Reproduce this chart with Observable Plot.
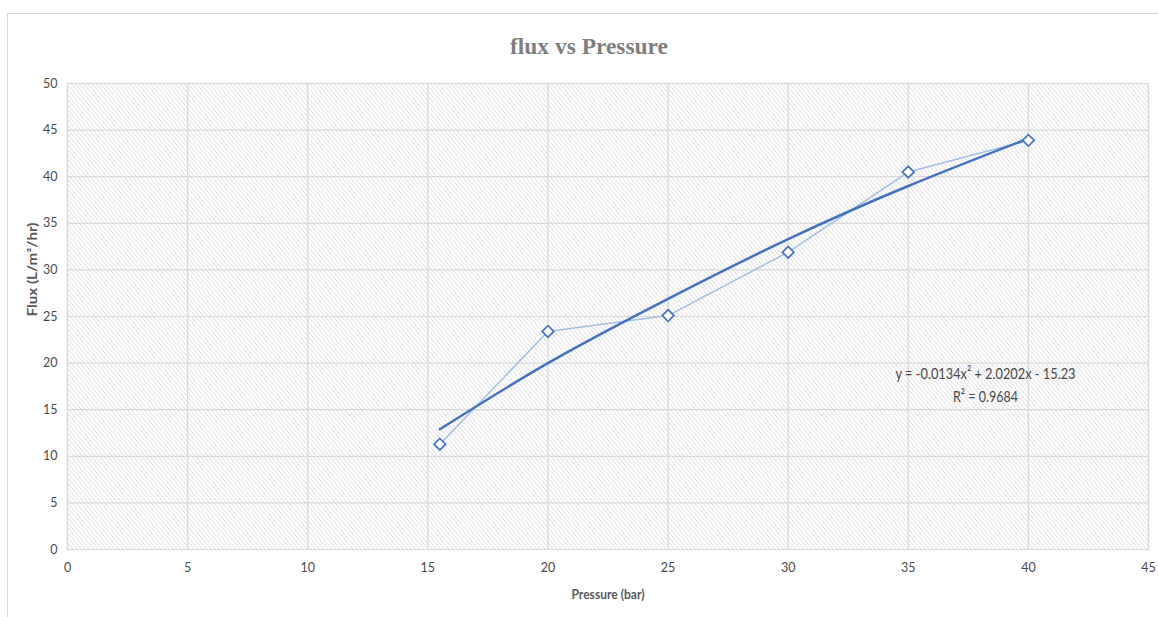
<!DOCTYPE html>
<html>
<head>
<meta charset="utf-8">
<script src="https://cdn.jsdelivr.net/npm/d3@7"></script>
<script src="https://cdn.jsdelivr.net/npm/@observablehq/plot@0.6"></script>
<style>
  html, body { margin: 0; padding: 0; background: #fff; }
  #wrap { position: relative; width: 1158px; height: 617px; overflow: hidden; }
  #border { position: absolute; left: 7px; top: 13px; width: 1300px; height: 800px; border: 1px solid #d9d9d9; box-sizing: border-box; }
  #chart { position: absolute; left: 0; top: 0; }
</style>
</head>
<body>
<div id="wrap"><div id="border"></div><div id="chart"></div></div>
<script>
// Measured data
const pressure = [15.5, 20, 25, 30, 35, 40];
const flux = [11.3, 23.4, 25.1, 31.9, 40.5, 43.9];
// Polynomial trendline values
const trendX = [15.5, 20, 25, 30, 35, 40];
const trendY = [12.9, 20.0, 26.9, 33.3, 39.0, 44.1];
const xTicks = [0, 5, 10, 15, 20, 25, 30, 35, 40, 45];
const yTicks = [0, 5, 10, 15, 20, 25, 30, 35, 40, 45, 50];
const titleText = "flux vs Pressure";
const xLabel = "Pressure (bar)";
const yLabel = "Flux (L/m²/hr)";
const equationText = ["y = -0.0134x² + 2.0202x - 15.23", "R² = 0.9684"];

const points = pressure.map((p, i) => ({p, f: flux[i]}));
const trend = trendX.map((p, i) => ({p, f: trendY[i]}));

const font = "Lato, 'Open Sans', sans-serif";
const textColor = "#595959";
const tickColor = "#4a4a4a";

const plot = Plot.plot({
  width: 1158,
  height: 617,
  marginLeft: 67,
  marginRight: 10,
  marginTop: 83,
  marginBottom: 68,
  style: { fontFamily: font, fontSize: "12px", color: textColor, background: "transparent", overflow: "visible" },
  x: { domain: [0, 45], ticks: xTicks, tickSize: 0, tickPadding: 14, label: null },
  y: { domain: [0, 50], ticks: yTicks, tickSize: 0, tickPadding: 10, label: null },
  marks: [
    Plot.frame({ fill: "url(#hatch)", stroke: "none" }),
    Plot.gridX(xTicks, { stroke: "#d9d9d9", strokeOpacity: 1, strokeWidth: 1.2 }),
    Plot.gridY(yTicks, { stroke: "#d9d9d9", strokeOpacity: 1, strokeWidth: 1.2 }),
    Plot.frame({ stroke: "#d9d9d9", strokeWidth: 1.2 }),
    Plot.axisX(xTicks, { tickSize: 0, tickPadding: 14, fill: tickColor, fontSize: 12.5 }),
    Plot.axisY(yTicks, { tickSize: 0, tickPadding: 10, fill: tickColor, fontSize: 12.5 }),
    Plot.line(points, { x: "p", y: "f", stroke: "#a3bfe6", strokeWidth: 1.5 }),
    Plot.line(trend, { x: "p", y: "f", stroke: "#4472c4", strokeWidth: 2.5, curve: "natural" }),
    Plot.dot(points, { x: "p", y: "f", symbol: "square", rotate: 45, r: 4.6, fill: "white", stroke: "#4472c4", strokeWidth: 1.7 }),
    Plot.text([titleText], { frameAnchor: "top", lineAnchor: "middle", dx: -19, dy: -37, fontSize: 23, fontWeight: "bold", fill: "#7f7f7f", fontFamily: "'Liberation Serif', 'DejaVu Serif', serif", className: "t-title" }),
    Plot.text([xLabel], { frameAnchor: "bottom", lineAnchor: "middle", dy: 45, fontSize: 12.5, fontWeight: "bold", fill: textColor, className: "t-xlabel" }),
    Plot.text([yLabel], { frameAnchor: "left", lineAnchor: "middle", dx: -35, rotate: -90, fontSize: 12.5, fontWeight: "bold", fill: textColor, className: "t-ylabel" }),
    Plot.text([equationText[0]], { frameAnchor: "top-right", lineAnchor: "middle", dx: -163, dy: 290, textAnchor: "middle", fontSize: 16, fill: tickColor, className: "t-eq1" }),
    Plot.text([equationText[1]], { frameAnchor: "top-right", lineAnchor: "middle", dx: -163, dy: 313, textAnchor: "middle", fontSize: 16, fill: tickColor, className: "t-eq2" })
  ]
});

// hatch pattern definition
const ns = "http://www.w3.org/2000/svg";
const defs = document.createElementNS(ns, "defs");
const pat = document.createElementNS(ns, "pattern");
pat.setAttribute("id", "hatch");
pat.setAttribute("patternUnits", "userSpaceOnUse");
pat.setAttribute("width", "3.2");
pat.setAttribute("height", "3.2");
pat.setAttribute("patternTransform", "rotate(-40)");
const bg = document.createElementNS(ns, "rect");
bg.setAttribute("width", "3.2"); bg.setAttribute("height", "3.2"); bg.setAttribute("fill", "#ffffff");
const ln = document.createElementNS(ns, "line");
ln.setAttribute("x1", "0.5"); ln.setAttribute("y1", "0"); ln.setAttribute("x2", "0.5"); ln.setAttribute("y2", "3.2");
ln.setAttribute("stroke", "#e2e2e2"); ln.setAttribute("stroke-width", "1");
pat.appendChild(bg); pat.appendChild(ln); defs.appendChild(pat);
plot.insertBefore(defs, plot.firstChild);

// stretch label widths to those measured in the picture
const fitText = (cls, len) => {
  plot.querySelectorAll("g." + cls + " text").forEach(t => {
    t.setAttribute("textLength", len);
    t.setAttribute("lengthAdjust", "spacingAndGlyphs");
  });
};
fitText("t-ylabel", 94);
fitText("t-xlabel", 73);
fitText("t-title", 158);
fitText("t-eq1", 180);
fitText("t-eq2", 65);

document.getElementById("chart").appendChild(plot);
</script>
</body>
</html>
